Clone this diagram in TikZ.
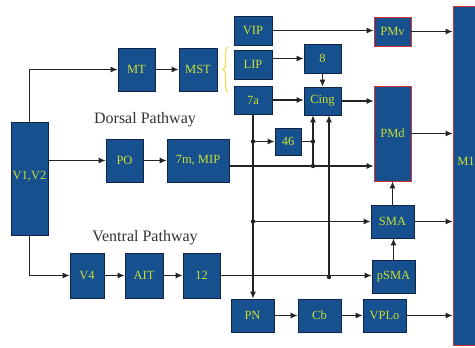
\documentclass[tikz,border=0pt]{standalone}
\usepackage{fontspec}
\setmainfont{Liberation Serif}
\usetikzlibrary{arrows.meta, positioning, calc, decorations.pathreplacing}
\definecolor{boxblue}{RGB}{22,80,142}
\definecolor{labelgreen}{RGB}{200,224,52}
\definecolor{edgenavy}{RGB}{18,36,70}
\definecolor{motorred}{RGB}{214,50,50}
\definecolor{braceyellow}{RGB}{236,226,80}
\definecolor{wire}{RGB}{35,35,35}

\begin{document}
\begin{tikzpicture}[x=1pt, y=-1pt,
  area/.style 2 args={draw=edgenavy, line width=0.8pt, fill=boxblue, text=labelgreen,
    font=\fontsize{12.5}{13}\selectfont, inner sep=0pt, minimum width=#1, minimum height=#2},
  motor/.style={draw=motorred},
  arr/.style={draw=wire, line width=1.1pt, -{Latex[length=7pt,width=6pt]}},
  pathway/.style={text=black!80, font=\fontsize{16}{18}\selectfont}]
  \useasboundingbox (0,0) rectangle (475,348);
  % visual areas
  \node[area={37pt}{113pt}, text depth=6pt] (v12) at (29.5,178.5) {V1,V2};
  \node[area={37pt}{43pt}] (mt) at (136.5,69.5) {MT};
  \node[area={38pt}{43pt}] (mst) at (198,69.5) {MST};
  \node[area={37pt}{43pt}] (po) at (124.5,160.5) {PO};
  \node[area={62pt}{43pt}] (mip) at (198,160.5) {7m, MIP};
  \node[area={34pt}{45pt}] (v4) at (87,275.5) {V4};
  \node[area={38pt}{45pt}] (ait) at (144,275.5) {AIT};
  \node[area={37pt}{45pt}] (n12) at (201.5,275.5) {12};
  % parietal and frontal areas
  \node[area={38pt}{29pt}] (vip) at (253,30.5) {VIP};
  \node[area={38pt}{29pt}] (lip) at (253,64.5) {LIP};
  \node[area={38pt}{28pt}] (a7) at (253,100) {7a};
  \node[area={37pt}{29pt}] (f8) at (322.5,58.5) {8};
  \node[area={37pt}{28pt}] (cing) at (322.5,101) {Cing};
  \node[area={26pt}{27pt}] (a46) at (288,141.5) {46};
  \node[area={37pt}{29pt}, motor] (pmv) at (392.5,31.5) {PMv};
  \node[area={37pt}{95pt}, motor] (pmd) at (392.5,133.5) {PMd};
  \node[area={43pt}{33pt}] (sma) at (392.5,221.5) {SMA};
  \node[area={43pt}{33pt}] (psma) at (393.5,276.5) {pSMA};
  \node[area={26pt}{339pt}, motor, text depth=28pt] (m1) at (466,175.5) {M1};
  % subcortical loop
  \node[area={43pt}{33pt}] (pn) at (252.5,315.5) {PN};
  \node[area={43pt}{33pt}] (cb) at (319.5,315.5) {Cb};
  \node[area={43pt}{33pt}] (vplo) at (384.5,315.5) {VPLo};
  % pathway names
  \node[pathway] (dorsal) at (145,120) {Dorsal Pathway};
  \node[pathway] (ventral) at (145,238) {Ventral Pathway};
  % branch points
  \coordinate (j7m) at (313,166);
  \coordinate (j12) at (329,277);
  \coordinate (jsma) at (a7.south |- sma.west);
  \coordinate (j46) at (a7.south |- a46.west);
  \coordinate (k46) at (j7m |- a46.east);
  % MST projects to VIP, LIP, 7a
  \draw[braceyellow, line width=1.2pt, decorate, decoration={brace, amplitude=5pt}] (228,92) -- (228,47);
  \draw[arr] (v12.north) |- (mt.west);
  \draw[arr] (mt) -- (mst);
  \draw[arr] (v12.east |- po.west) -- (po.west);
  \draw[arr] (po) -- (mip);
  \draw[arr] (mip.east |- j7m) -- (pmd.west |- j7m);
  \draw[arr] (v12.south) |- (v4.west);
  \draw[arr] (v4) -- (ait);
  \draw[arr] (ait) -- (n12);
  \draw[arr] (n12.east) -- (n12.east -| psma.west);
  \draw[arr] (vip.east) -- (vip.east -| pmv.west);
  \draw[arr] (lip.east |- f8) -- (f8.west);
  \draw[arr] (a7.east) -- (a7.east -| cing.west);
  \draw[arr] (f8) -- (cing);
  \draw[arr] (cing.east) -- (cing.east -| pmd.west);
  \draw[arr] (a7.south) -- (a7.south |- pn.north);
  \draw[arr] (j46) -- (a46.west);
  \draw[wire, line width=1.1pt] (a46.east) -- (k46);
  \draw[arr] (j7m) -- (j7m |- cing.south);
  \draw[arr] (j12) -- (j12 |- cing.south);
  \draw[arr] (jsma) -- (sma.west);
  \draw[arr] (pn) -- (cb);
  \draw[arr] (cb) -- (vplo);
  \draw[arr] (psma.north) -- (psma.north |- sma.south);
  \draw[arr] (sma) -- (pmd);
  % into M1
  \foreach \src in {pmv, pmd, sma, vplo}
    \draw[arr] (\src.east) -- (\src.east -| m1.west);
  \foreach \dot in {j46, k46, j7m, j12, jsma}
    \fill[wire] (\dot) circle (2.2pt);
\end{tikzpicture}
\end{document}
